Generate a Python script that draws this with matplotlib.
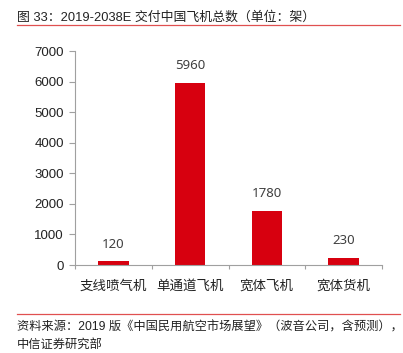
import matplotlib.pyplot as plt
import numpy as np

plt.rcParams['font.family'] = ['Liberation Sans', 'Noto Sans CJK SC']

categories = ["支线喷气机", "单通道飞机", "宽体飞机", "宽体货机"]
values = [120, 5960, 1780, 230]
yticks = [0, 1000, 2000, 3000, 4000, 5000, 6000, 7000]

red = "#d7000f"
axis_gray = "#a0a0a0"
text_color = "#404040"

W, H = 403, 353
fig = plt.figure(figsize=(W / 100, H / 100), dpi=100)

# title and rules
fig.text(17 / W, 1 - 17 / H, "图 33：2019-2038E 交付中国飞机总数（单位：架）",
         fontsize=9.3, color="#222222", va="center", ha="left")
fig.add_artist(plt.Line2D([17 / W, 400 / W], [1 - 24.5 / H] * 2, color="#e05050", lw=0.9))
fig.add_artist(plt.Line2D([17 / W, 400 / W], [1 - 314 / H] * 2, color="#e05050", lw=0.9))
fig.text(17 / W, 1 - 327 / H, "资料来源：2019 版《中国民用航空市场展望》（波音公司，含预测），",
         fontsize=8.8, color="#222222", va="center", ha="left")
fig.text(17 / W, 1 - 345 / H, "中信证券研究部",
         fontsize=8.8, color="#222222", va="center", ha="left")

left, right, top, bottom = 75, 382, 51, 265
ax = fig.add_axes([left / W, 1 - bottom / H, (right - left) / W, (bottom - top) / H])

x = np.arange(len(categories))
ax.bar(x, values, width=0.4, color=red)
for xi, v in zip(x, values):
    ax.text(xi, v + 350, str(v), ha="center", va="bottom", fontsize=9.5,
            color=text_color, family=["Noto Sans", "DejaVu Sans"])

ax.set_xlim(-0.5, len(categories) - 0.5)
ax.set_ylim(0, 7000)
ax.set_yticks(yticks)
ax.set_yticklabels([str(t) for t in yticks], fontsize=9.5, color="#222222")
ax.set_xticks(np.arange(len(categories) + 1) - 0.5, minor=False)
ax.set_xticklabels([])
ax.set_xticks(x, minor=True)
ax.set_xticklabels(categories, minor=True, fontsize=9.7, color="#222222")
ax.tick_params(axis="x", which="minor", length=0, pad=11)
ax.tick_params(axis="x", which="major", length=3, color=axis_gray, direction="out")
ax.tick_params(axis="y", length=4, color=axis_gray, pad=4)

for s in ["top", "right"]:
    ax.spines[s].set_visible(False)
for s in ["left", "bottom"]:
    ax.spines[s].set_color(axis_gray)
    ax.spines[s].set_linewidth(0.8)

fig.savefig("out.png", dpi=100)
